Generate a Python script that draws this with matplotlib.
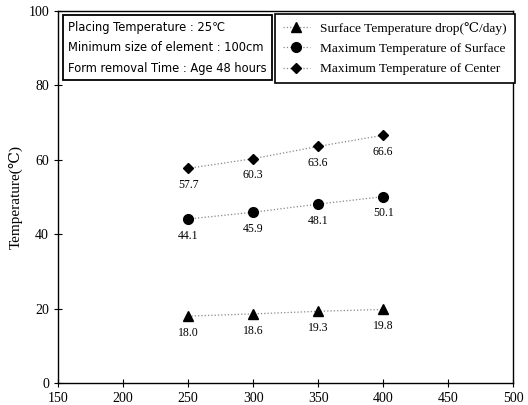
import matplotlib
matplotlib.use("Agg")
import matplotlib.pyplot as plt

x = [250, 300, 350, 400]
surface_drop = [18.0, 18.6, 19.3, 19.8]
max_surface = [44.1, 45.9, 48.1, 50.1]
max_center = [57.7, 60.3, 63.6, 66.6]
xticks = [150, 200, 250, 300, 350, 400, 450, 500]
yticks = [0, 20, 40, 60, 80, 100]

plt.rcParams['font.family'] = ['Liberation Serif', 'DejaVu Serif']
fig = plt.figure(figsize=(5.28, 4.05), dpi=100)
ax = fig.add_axes([0.110, 0.054, 0.862, 0.919])

series = [
    (surface_drop, '^', 'Surface Temperature drop(\u2103/day)'),
    (max_surface, 'o', 'Maximum Temperature of Surface'),
    (max_center, 'D', 'Maximum Temperature of Center'),
]
for vals, m, lab in series:
    ax.plot(x, vals, linestyle=':', color='#888888', linewidth=0.9,
            marker=m, markersize=7 if m != 'D' else 5.5, markerfacecolor='black',
            markeredgecolor='black', label=lab)
    for xi, v in zip(x, vals):
        ax.annotate(f"{v:.1f}", (xi, v), textcoords='offset points', xytext=(0, -12),
                    ha='center', va='center', fontsize=8.5)

ax.set_xlim(150, 500)
ax.set_ylim(0, 100)
ax.set_xticks(xticks)
ax.set_yticks(yticks)
ax.tick_params(direction='inout', length=6, labelsize=10, width=0.8)
ax.set_ylabel('Temperature(\u2103)', fontsize=11)
for s in ax.spines.values():
    s.set_linewidth(1.0)

leg = ax.legend(loc='upper right', bbox_to_anchor=(1.004, 0.992), borderaxespad=0,
                fontsize=9.6, frameon=True, fancybox=False, shadow=False,
                edgecolor='black', framealpha=1, borderpad=0.6, labelspacing=0.6,
                handlelength=2.0)
leg.get_frame().set_linewidth(1.2)

ax.text(0.022, 0.974,
        'Placing Temperature : 25\u2103\nMinimum size of element : 100cm\nForm removal Time : Age 48 hours',
        transform=ax.transAxes, ha='left', va='top', fontsize=8.3,
        family=['DejaVu Sans', 'Noto Sans CJK SC'], linespacing=1.75,
        bbox=dict(boxstyle='square,pad=0.45', facecolor='white', edgecolor='black', linewidth=1.3))

fig.savefig('out.png', dpi=100)
